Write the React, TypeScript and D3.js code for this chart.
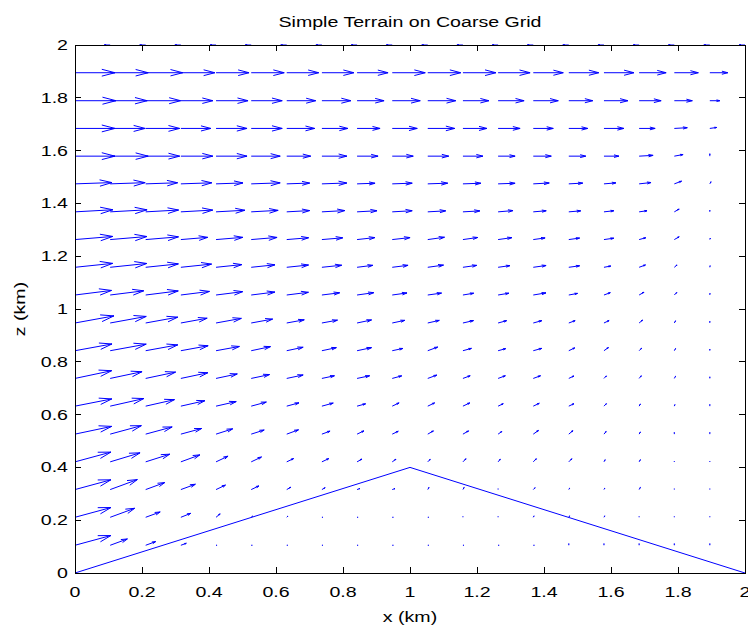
import React from 'react';
import * as d3 from 'd3';

// grid coordinates (km)
const gridX = [0, 0.105, 0.211, 0.316, 0.421, 0.526, 0.632, 0.737, 0.842, 0.947, 1.053, 1.158, 1.263, 1.368, 1.474, 1.579, 1.684, 1.789, 1.895, 2];
const gridZ = [0, 0.105, 0.211, 0.316, 0.421, 0.526, 0.632, 0.737, 0.842, 0.947, 1.053, 1.158, 1.263, 1.368, 1.474, 1.579, 1.684, 1.789, 1.895, 2];

// wind speed (m/s) per row (z index from bottom), per column (x index)
const speed: number[][] = [
  [0, 0, 0, 0, 0, 0, 0, 0, 0, 0, 0, 0, 0, 0, 0, 0, 0, 0, 0, 0],
  [3.8, 1.9, 1.1, 0.6, 0.1, 0.1, 0.1, 0.1, 0.1, 0.1, 0.1, 0.1, 0.1, 0.1, 0.2, 0.2, 0.2, 0.2, 0.2, 0],
  [3.8, 2.7, 1.6, 1.1, 0.6, 0.2, 0.2, 0.1, 0.1, 0.1, 0.1, 0.1, 0.1, 0.2, 0.2, 0.2, 0.1, 0.1, 0.1, 0],
  [3.8, 3.0, 2.1, 1.6, 1.1, 0.9, 0.5, 0.4, 0.3, 0.3, 0.3, 0.3, 0.1, 0.3, 0.2, 0.2, 0.3, 0.1, 0.1, 0],
  [3.8, 3.2, 2.6, 2.1, 1.4, 1.2, 0.8, 0.8, 0.6, 0.5, 0.4, 0.5, 0.4, 0.5, 0.5, 0.3, 0.3, 0.1, 0.1, 0],
  [3.8, 3.3, 2.8, 2.2, 1.8, 1.4, 1.3, 0.9, 0.8, 0.7, 0.7, 0.7, 0.5, 0.7, 0.6, 0.4, 0.3, 0.2, 0.2, 0],
  [3.8, 3.5, 3.0, 2.5, 2.1, 1.6, 1.3, 1.2, 0.9, 0.8, 0.8, 0.8, 0.6, 0.7, 0.6, 0.4, 0.3, 0.2, 0.2, 0],
  [3.8, 3.3, 3.1, 2.8, 2.2, 1.9, 1.7, 1.3, 1.3, 1.0, 1.0, 0.8, 0.8, 0.8, 0.6, 0.4, 0.4, 0.3, 0.2, 0],
  [3.8, 3.7, 3.3, 2.8, 2.4, 2.0, 1.7, 1.5, 1.5, 1.1, 1.1, 0.9, 0.8, 0.9, 0.7, 0.6, 0.4, 0.3, 0.2, 0],
  [4.0, 3.7, 3.3, 2.7, 2.6, 2.2, 1.8, 1.6, 1.5, 1.3, 1.2, 1.1, 0.9, 0.9, 0.7, 0.6, 0.5, 0.3, 0.2, 0],
  [3.7, 3.4, 3.3, 2.9, 2.7, 2.4, 2.2, 1.8, 1.7, 1.5, 1.4, 1.1, 1.1, 1.3, 0.9, 0.7, 0.6, 0.4, 0.2, 0],
  [3.8, 3.7, 3.3, 3.1, 2.6, 2.4, 2.2, 2.0, 1.6, 1.6, 1.6, 1.4, 1.2, 1.3, 1.1, 0.7, 0.7, 0.4, 0.2, 0],
  [3.8, 3.7, 3.3, 2.7, 2.7, 2.6, 2.2, 2.1, 1.8, 1.8, 1.7, 1.5, 1.4, 1.2, 1.1, 1.0, 0.7, 0.6, 0.2, 0],
  [3.8, 3.7, 3.3, 3.2, 2.9, 2.7, 2.3, 2.3, 2.0, 2.0, 1.8, 1.7, 1.5, 1.3, 1.2, 1.0, 0.8, 0.6, 0.2, 0],
  [3.7, 3.5, 3.2, 3.1, 2.7, 2.9, 2.3, 2.5, 1.8, 2.0, 2.0, 1.8, 1.7, 1.6, 1.4, 1.2, 1.2, 0.8, 0.3, 0],
  [4.0, 3.8, 3.4, 3.2, 3.1, 2.9, 2.4, 2.5, 2.1, 2.1, 2.1, 2.0, 1.7, 1.8, 1.7, 1.5, 1.4, 0.9, 0.3, 0],
  [4.0, 3.5, 3.4, 3.0, 3.1, 3.1, 2.8, 2.6, 2.3, 2.5, 2.7, 2.4, 2.2, 2.0, 1.9, 2.0, 1.6, 1.3, 0.7, 0],
  [4.1, 3.7, 3.5, 3.2, 3.2, 3.1, 2.9, 2.9, 2.7, 2.8, 2.8, 2.6, 2.6, 2.5, 2.4, 2.4, 2.2, 1.8, 1.0, 0],
  [4.0, 3.8, 3.7, 3.4, 3.3, 3.3, 3.2, 3.2, 3.1, 3.3, 3.3, 3.3, 3.2, 3.0, 3.0, 3.0, 2.7, 2.4, 1.8, 0],
  [0.6, 0.6, 0.6, 0.6, 0.6, 0.6, 0.6, 0.6, 0.6, 0.6, 0.6, 0.6, 0.6, 0.6, 0.6, 0.6, 0.6, 0.6, 0.6, 0.6],
];

// wind direction (degrees above horizontal, 0 = toward +x)
const direction: number[][] = [
  [0, 0, 0, 0, 0, 0, 0, 0, 0, 0, 0, 0, 0, 0, 0, 0, 0, 0, 0, 0],
  [19, 25, 25, 25, 0, 0, 0, 0, 0, 0, 0, 0, 0, 0, 90, 90, 90, 90, 90, 0],
  [19, 25, 25, 27, 47, 47, 52, 0, 0, 0, 0, 90, 90, 66, 66, 66, 90, 90, 90, 0],
  [19, 25, 25, 25, 31, 31, 36, 36, 25, 25, 66, 66, 90, 52, 66, 66, 66, 90, 90, 0],
  [19, 21, 22, 25, 31, 31, 31, 31, 36, 42, 52, 52, 57, 52, 52, 66, 66, 90, 90, 0],
  [15, 19, 19, 19, 22, 22, 25, 25, 31, 31, 36, 36, 42, 42, 47, 57, 66, 90, 90, 0],
  [14, 16, 16, 16, 16, 19, 19, 19, 19, 31, 31, 31, 31, 31, 31, 52, 66, 74, 90, 0],
  [15, 15, 15, 15, 15, 15, 15, 15, 15, 19, 25, 25, 25, 25, 31, 52, 57, 66, 90, 0],
  [13, 13, 13, 13, 13, 15, 15, 15, 15, 15, 25, 19, 19, 19, 31, 42, 52, 66, 90, 0],
  [13, 13, 13, 13, 13, 13, 13, 13, 15, 15, 16, 16, 19, 19, 25, 31, 47, 66, 90, 0],
  [9, 9, 9, 9, 9, 9, 9, 9, 10, 10, 10, 12, 12, 12, 13, 25, 36, 52, 86, 0],
  [7.5, 7.5, 7.5, 7.5, 7.5, 7.5, 7.5, 7.5, 9, 9, 10, 10, 10, 10, 10, 13, 25, 47, 82, 0],
  [6, 6, 6, 6, 6, 6, 6, 6, 8, 8, 10, 10, 10, 10, 10, 10, 19, 36, 74, 0],
  [4, 4, 4, 4, 4, 4, 4, 4, 4, 4, 4, 4, 6, 6, 6, 8, 10, 36, 90, 0],
  [2.5, 2.5, 2.5, 2.5, 2.5, 2.5, 2.5, 2.5, 2.5, 2.5, 2.5, 2.5, 2.5, 4, 4, 6, 8, 25, 66, 0],
  [0, 0, 0, 0, 0, 0, 0, 0, 0, 0, 0, 0, 0, 0, 0, 0, 4, 13, 90, 0],
  [0, 0, 0, 0, 0, 0, 0, 0, 0, 0, 0, 0, 0, 0, 0, 0, 0, 4, 10, 0],
  [0, 0, 0, 0, 0, 0, 0, 0, 0, 0, 0, 0, 0, 0, 0, 0, 0, 0, 0, 0],
  [0, 0, 0, 0, 0, 0, 0, 0, 0, 0, 0, 0, 0, 0, 0, 0, 0, 0, 0, 0],
  [180, 180, 180, 180, 180, 180, 180, 180, 180, 180, 180, 180, 180, 180, 180, 180, 180, 180, 180, 180],
];

const xTicks = [0, 0.2, 0.4, 0.6, 0.8, 1, 1.2, 1.4, 1.6, 1.8, 2];
const zTicks = [0, 0.2, 0.4, 0.6, 0.8, 1, 1.2, 1.4, 1.6, 1.8, 2];
const xTickLabels = ['0', '0.2', '0.4', '0.6', '0.8', '1', '1.2', '1.4', '1.6', '1.8', '2'];
const zTickLabels = ['0', '0.2', '0.4', '0.6', '0.8', '1', '1.2', '1.4', '1.6', '1.8', '2'];
const terrainX = [0, 1, 2];
const terrainZ = [0, 0.4, 0];

const TITLE = 'Simple Terrain on Coarse Grid';
const XLABEL = 'x (km)';
const ZLABEL = 'z (km)';

const FONT = '"Liberation Sans", Arial, Helvetica, sans-serif';
const SX = 1.4; // horizontal stretch of text as in the reference
const BLUE = '#0000ff';

export default function App() {
  const W = 748, H = 626;
  const L = 75, R = 745, T = 45, B = 573;
  const x = d3.scaleLinear().domain([0, 2]).range([L, R]);
  const y = d3.scaleLinear().domain([0, 2]).range([B, T]);
  const k = 10 / 335; // km per (m/s) in arrow drawing
  const alpha = 0.33, beta = 0.33;

  const shafts = d3.path();
  const heads = d3.path();
  gridZ.forEach((zv, j) => {
    gridX.forEach((xv, i) => {
      const s = speed[j][i];
      if (!s) return;
      const a = (direction[j][i] * Math.PI) / 180;
      const u = s * Math.cos(a) * k;
      const v = s * Math.sin(a) * k;
      const tx = xv + u, tz = zv + v;
      shafts.moveTo(x(xv), y(zv));
      shafts.lineTo(x(tx), y(tz));
      const h1x = tx - alpha * (u + beta * v);
      const h1z = tz - alpha * (v - beta * u);
      const h2x = tx - alpha * (u - beta * v);
      const h2z = tz - alpha * (v + beta * u);
      heads.moveTo(x(h1x), y(h1z));
      heads.lineTo(x(tx), y(tz));
      heads.lineTo(x(h2x), y(h2z));
    });
  });

  const terrain = d3
    .line<number>()
    .x((_, i) => x(terrainX[i]))
    .y((_, i) => y(terrainZ[i]))(terrainZ);

  const tickLen = 6;
  const axisColor = '#000';

  return (
    <svg
      width={W}
      height={H}
      style={{ position: 'absolute', left: 0, top: 0, background: '#fff' }}
      fontFamily={FONT}
    >
      <rect x={0} y={0} width={W} height={H} fill="#fff" />
      <defs>
        <clipPath id="plotclip">
          <rect x={L} y={T - 1} width={R - L + 1} height={B - T + 2} />
        </clipPath>
      </defs>
      <g clipPath="url(#plotclip)" fill="none" stroke={BLUE} strokeWidth={1}>
        <path d={shafts.toString()} />
        <path d={heads.toString()} />
        <path d={terrain || ''} />
      </g>
      {/* axes box */}
      <g stroke={axisColor} strokeWidth={1} shapeRendering="crispEdges" fill="none">
        <rect x={L} y={T} width={R - L} height={B - T} />
        {xTicks.map((t) => (
          <g key={'xt' + t}>
            <line x1={x(t)} x2={x(t)} y1={B} y2={B - tickLen} />
            <line x1={x(t)} x2={x(t)} y1={T} y2={T + tickLen} />
          </g>
        ))}
        {zTicks.map((t) => (
          <g key={'zt' + t}>
            <line x1={L} x2={L + tickLen} y1={y(t)} y2={y(t)} />
            <line x1={R} x2={R - tickLen} y1={y(t)} y2={y(t)} />
          </g>
        ))}
      </g>
      <g fontSize={14} fill="#000">
        {xTicks.map((t, i) => (
          <text key={'xl' + t} transform={`translate(${x(t)},${597}) scale(${SX},1)`} textAnchor="middle">
            {xTickLabels[i]}
          </text>
        ))}
        {zTicks.map((t, i) => (
          <text
            key={'zl' + t}
            transform={`translate(${L - 7},${y(t) + 5}) scale(${SX},1)`}
            textAnchor="end"
          >
            {zTickLabels[i]}
          </text>
        ))}
        <text transform={`translate(${(L + R) / 2},${27}) scale(${SX},1)`} textAnchor="middle">
          {TITLE}
        </text>
        <text transform={`translate(${(L + R) / 2},${622}) scale(${SX},1)`} textAnchor="middle">
          {XLABEL}
        </text>
        <text transform={`translate(${25},${(T + B) / 2}) rotate(-90) scale(${SX},1)`} textAnchor="middle">
          {ZLABEL}
        </text>
      </g>
    </svg>
  );
}
